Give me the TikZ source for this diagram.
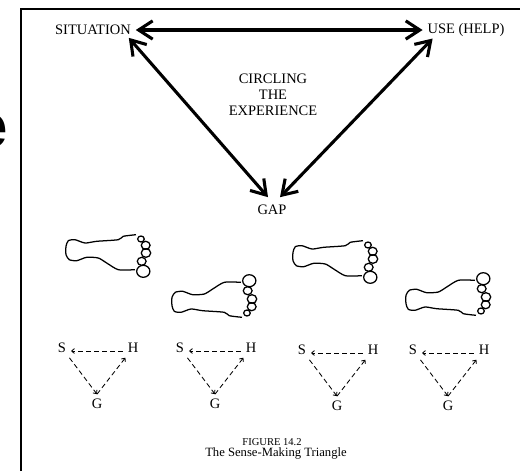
\documentclass[tikz,border=0pt]{standalone}
\usepackage{fontspec}
\setmainfont{Liberation Serif}
\newfontfamily\bigsans{Liberation Sans}
\usetikzlibrary{arrows.meta}

\begin{document}
\begin{tikzpicture}
      \tikzstyle{arrow} = [line width=2.2pt, <->, >={Straight Barb[length=10pt,width=13pt]}]
      \tikzstyle{word} = [font=\fontsize{10.3}{11.5}\selectfont, align=center]
      \tikzstyle{dashline} = [line width=0.6pt, dash pattern=on 3.5pt off 2.2pt, ->, >={Straight Barb[length=2pt,width=3.5pt]}]
      \tikzstyle{footline} = [line width=0.9pt]
      \tikzset{foot/.pic={
        \begin{scope}[scale=0.025]
          \draw[footline] plot[smooth, tension=0.4] coordinates {(70,-0.7) (57.3,-2.3) (52.3,-5.7) (30.7,-7.3) (19,-9) (9,-5.7) (2.3,-6.7) (0,-12.3) (0,-20.7) (3.3,-25.7) (10.7,-26.7) (20.7,-23.3) (32.3,-24) (40.7,-29) (52.3,-35.7) (69,-35.7)};
          \foreach \u/\v/\r in {77.3/-37.3/6, 75.7/-27.3/4, 80/-19/4.3, 79.7/-11.3/4, 75/-5/3}
            \draw[footline] (\u,\v) ellipse ({\r*1.1} and \r);
        \end{scope}}}

      \useasboundingbox (0,0) rectangle (13,-11.775);
      \draw[line width=1.4pt] (0.525,-11.775) -- (0.525,-0.225) -- (13,-0.225);
      \node (title-e) [anchor=east, inner sep=0pt, font=\bigsans\bfseries\fontsize{44}{44}\selectfont] at (0.2,-3.275) {e};

      \node (sit) [word] at (2.325,-0.75) {SITUATION};
      \node (use) [word] at (11.65,-0.75) {USE (HELP)};
      \node (circ) [word] at (6.825,-2.375) {CIRCLING\\THE\\EXPERIENCE};
      \node (gap) [word] at (6.8,-5.25) {GAP};
      \draw [arrow] (sit) -- (use);
      \draw [arrow] ([xshift=-0.175cm, yshift=0.05cm]sit.south east) -- ([xshift=-0.1cm, yshift=0.075cm]gap.north);
      \draw [arrow] ([xshift=0.25cm, yshift=0.075cm]use.south west) -- ([xshift=0.2cm, yshift=0.075cm]gap.north);

      \pic (foot-1) at (1.65,-5.85) {foot};
      \pic (foot-2) [yscale=-1] at (4.3,-7.95) {foot};
      \pic (foot-3) at (7.325,-6.0) {foot};
      \pic (foot-4) [yscale=-1] at (10.15,-7.9) {foot};

      \foreach \i/\x/\y in {1/1.55/8.7, 2/4.5/8.7, 3/7.55/8.75, 4/10.325/8.75}
      {
        \node (S-\i) [word] at (\x,-\y) {S};
        \node (H-\i) [word] at (\x+1.775,-\y) {H};
        \node (G-\i) [word] at (\x+0.875,-\y-1.4) {G};
        \draw [dashline] ([yshift=-0.075cm]H-\i.west) -- ([yshift=-0.075cm]S-\i.east);
        \draw [dashline] (S-\i) -- (G-\i.north);
        \draw [dashline] (G-\i.north) -- (H-\i);
      }

      \node (fig) [font=\fontsize{7.5}{9}\selectfont] at (6.8,-11.05) {FIGURE 14.2};
      \node (cap) [font=\fontsize{9}{10}\selectfont] at (6.9,-11.325) {The Sense-Making Triangle};
\end{tikzpicture}
\end{document}
